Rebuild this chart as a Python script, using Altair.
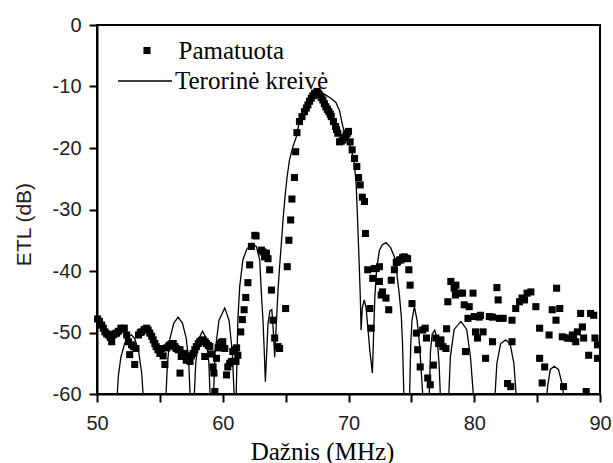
import altair as alt
import pandas as pd

# Measured data (Pamatuota)
freq_meas = [
    50.05, 50.2, 50.37, 50.5, 50.63, 50.77, 50.9, 51.05, 51.17, 51.3, 51.43, 51.56, 51.7, 51.9,
    52.05, 52.17, 52.36, 52.5, 52.6, 52.75, 52.9, 53.0, 53.1, 53.3, 53.45, 53.55, 53.75, 53.94,
    54.07, 54.2, 54.35, 54.47, 54.6, 54.7, 54.85, 55.0, 55.13, 55.26, 55.4, 55.55, 55.7, 55.8,
    55.95, 56.06, 56.2, 56.3, 56.45, 56.6, 56.6, 56.7, 56.85, 56.98, 57.1, 57.25, 57.4, 57.5,
    57.64, 57.78, 57.9, 58.05, 58.17, 58.3, 58.44, 58.57, 58.6, 58.7, 58.85, 58.97, 59.1, 59.23,
    59.3, 59.37, 59.5, 59.63, 59.76, 59.9, 60.0, 60.16, 60.3, 60.4, 60.55, 60.7, 60.8, 60.95,
    61.05, 61.1, 61.2, 61.43, 61.56, 61.7, 61.83, 62.0, 62.14, 62.28, 62.55, 62.65, 63.07, 63.2,
    63.33, 63.47, 63.6, 63.73, 63.87, 64.0, 64.13, 64.4, 64.52, 65.0, 65.13, 65.26, 65.4, 65.5,
    65.7, 65.8, 65.9, 66.1, 66.3, 66.5, 66.65, 66.77, 66.9, 67.04, 67.17, 67.3, 67.5, 67.6,
    67.7, 67.83, 67.96, 68.08, 68.2, 68.32, 68.44, 68.55, 68.63, 68.8, 68.97, 69.05, 69.15, 69.29,
    69.42, 69.55, 69.68, 69.8, 69.9, 70.0, 70.13, 70.29, 70.48, 70.66, 70.8, 70.93, 71.1, 71.27,
    71.35, 71.53, 71.7, 71.8, 71.93, 72.06, 72.2, 72.46, 72.46, 72.6, 72.7, 72.98, 73.2, 73.4,
    73.65, 73.8, 73.9, 74.05, 74.17, 74.3, 74.44, 74.57, 74.7, 74.8, 74.9, 75.05, 75.4, 75.5,
    75.7, 75.9, 76.1, 76.2, 76.3, 76.5, 76.75, 76.95, 77.17, 77.35, 77.5, 77.75, 77.8, 77.9,
    78.14, 78.4, 78.54, 78.5, 78.8, 79.07, 79.2, 79.3, 79.5, 79.6, 79.9, 80.0, 80.1, 80.26,
    80.4, 80.5, 80.7, 80.9, 81.2, 81.45, 81.45, 81.8, 81.9, 82.0, 82.3, 82.65, 82.9, 83.0,
    83.0, 83.3, 83.6, 83.8, 84.0, 84.2, 84.5, 84.9, 85.2, 85.2, 85.4, 85.6, 85.95, 86.2,
    86.5, 86.55, 86.8, 87.0, 87.1, 87.4, 87.54, 87.8, 87.9, 88.07, 88.2, 88.46, 88.6, 88.7,
    88.9, 89.1, 89.25, 89.5, 89.6, 89.8, 89.8,
]
etl_meas = [
    -47.8, -48.2, -48.8, -49.3, -49.9, -50.2, -50.4, -50.8, -51.5, -50.4, -50.2, -50.1, -49.8, -49.3,
    -49.5, -49.3, -50.4, -51.5, -53.6, -52.0, -52.3, -55.2, -52.6, -50.4, -50.0, -49.9, -49.5, -49.3,
    -49.6, -50.1, -50.6, -51.2, -51.8, -52.3, -52.8, -53.4, -52.6, -53.8, -55.2, -52.5, -52.2, -52.0,
    -51.8, -51.8, -52.3, -52.6, -52.8, -52.8, -56.6, -53.9, -53.5, -53.4, -54.5, -54.3, -54.7, -53.8,
    -53.4, -52.8, -52.3, -51.8, -51.5, -51.3, -51.2, -53.9, -51.5, -51.8, -52.1, -52.3, -53.5, -55.6,
    -56.6, -59.6, -54.2, -52.5, -51.8, -51.6, -51.5, -52.6, -56.9, -55.6, -55.0, -54.7, -53.1, -52.8,
    -54.7, -52.5, -53.7, -49.9, -47.9, -46.3, -44.3, -41.9, -39.0, -36.0, -34.2, -34.3, -36.6, -36.9,
    -37.7, -37.1, -38.0, -39.8, -43.1, -48.0, -50.9, -52.3, -52.6, -46.1, -39.3, -35.0, -31.7, -28.3,
    -24.8, -20.6, -17.5, -15.7, -14.9, -14.1, -13.5, -13.0, -12.4, -11.9, -11.5, -11.1, -10.8, -11.1,
    -11.4, -11.8, -12.2, -12.8, -13.3, -13.7, -14.1, -14.5, -14.9, -15.7, -16.5, -17.0, -17.6, -19.0,
    -18.9, -18.7, -18.3, -17.9, -17.6, -17.3, -19.0, -20.3, -21.7, -23.0, -24.8, -26.0, -28.0, -28.7,
    -33.9, -39.8, -46.1, -49.3, -41.2, -39.6, -39.6, -39.3, -41.7, -43.9, -43.4, -44.4, -46.3, -41.5,
    -39.8, -38.6, -38.5, -38.2, -38.2, -37.8, -37.7, -37.9, -38.0, -39.8, -42.3, -45.3, -50.1, -52.8,
    -55.6, -49.6, -49.3, -50.9, -57.4, -58.5, -55.3, -50.9, -51.8, -51.2, -52.3, -52.6, -49.4, -45.0,
    -41.7, -42.8, -42.3, -43.9, -43.6, -43.6, -45.5, -53.1, -47.7, -45.8, -43.6, -47.4, -49.9, -50.9,
    -47.5, -47.2, -49.9, -54.2, -47.4, -47.5, -51.5, -42.7, -44.7, -47.7, -47.7, -58.3, -58.8, -51.5,
    -48.0, -46.1, -45.0, -44.4, -44.7, -43.6, -43.4, -45.8, -49.3, -54.2, -58.2, -55.6, -50.4, -46.3,
    -48.0, -42.8, -46.1, -50.7, -58.8, -50.9, -50.9, -50.4, -51.0, -51.5, -49.9, -46.9, -49.1, -50.9,
    -59.6, -53.7, -46.9, -47.2, -50.9, -52.0, -54.2,
]

# Theoretical curve (Terorinė kreivė); values below -60 are clipped by the axis
freq_theory = [
    50.0, 51.5,
    51.56, 51.7, 51.9, 52.2, 52.5, 52.75, 53.0, 53.3, 53.55, 53.73, 53.8,
    55.4, 55.45, 55.6, 55.8, 56.1, 56.45, 56.8, 57.1, 57.3, 57.44, 57.5,
    57.65, 57.7, 57.85, 58.1, 58.39, 58.7, 58.9, 59.02, 59.1,
    59.2, 59.23, 59.4, 59.7, 60.16, 60.5, 60.75, 60.95, 61.0,
    61.05, 61.2, 61.35, 61.6, 61.9, 62.28, 62.67, 62.94, 63.07, 63.2, 63.3, 63.39,
    63.5, 63.6, 63.75, 63.9, 64.0, 64.13, 64.3, 64.4, 64.52, 64.66, 64.8, 64.95,
    65.1, 65.3, 65.55, 65.85, 66.1, 66.35, 66.6, 66.9, 67.17, 67.5, 67.8, 68.2,
    68.6, 69.0, 69.3, 69.45, 69.7, 70.0, 70.2, 70.45, 70.6, 70.7, 70.8, 70.87,
    70.95, 71.0, 71.1, 71.25, 71.4, 71.53, 71.7, 71.9, 72.0, 72.1, 72.25, 72.46,
    72.7, 73.0, 73.35, 73.65, 73.85, 74.05, 74.2, 74.3, 74.4, 74.45,
    74.8, 74.84, 74.95, 75.05, 75.24, 75.45, 75.65, 75.9, 75.95,
    76.35, 76.4, 76.52, 76.65, 76.85, 77.05, 77.2, 77.3, 77.35,
    77.9, 77.94, 78.1, 78.4, 78.94, 79.4, 79.7, 80.0, 80.05,
    81.55, 81.6, 81.8, 82.1, 82.5, 82.85, 83.15, 83.4, 83.45,
    85.6, 85.65, 85.85, 86.05, 86.35, 86.7, 87.0, 87.28, 87.35,
    90.0,
]
etl_theory = [
    -75, -75,
    -62, -57, -54, -51.8, -50.7, -50.4, -51, -53, -56.5, -62, -75,
    -75, -62, -55, -51, -48.5, -47.5, -48.5, -51, -55, -62, -75,
    -75, -62, -55, -51, -49.8, -51, -55, -62, -75,
    -75, -62, -53, -48, -46, -48, -53, -62, -75,
    -62, -48, -42.5, -38.2, -36.5, -35.5, -36, -38.2, -43.6, -48, -53, -58,
    -53, -48.5, -46.5, -46.3, -49, -54, -47, -43, -39.3, -35.5, -31.5, -28,
    -25, -22, -20, -18.2, -15.6, -14, -13, -12.2, -11.4, -10.8, -10.9, -11.4,
    -11.9, -12.6, -14, -15.6, -17.8, -19, -20, -22.3, -25.5, -30.5, -36, -40,
    -45, -49.6, -46, -44.7, -46, -49, -53, -56.6, -50, -44, -39.5, -36.6,
    -35.7, -35.4, -36.2, -37.7, -40.5, -44, -47.4, -52, -60, -75,
    -75, -62, -52, -48, -45.8, -48, -52, -60, -75,
    -75, -62, -53, -50.3, -49.6, -51, -55, -60, -75,
    -75, -62, -54, -49.5, -48.2, -49.5, -54, -62, -75,
    -75, -62, -55, -51.8, -51.2, -51.8, -55, -62, -75,
    -75, -63, -58.5, -56, -55.5, -56, -58.5, -63, -75,
    -75,
]

series_meas = ["Pamatuota"] * len(freq_meas)
series_theory = ["Terorinė kreivė"] * len(freq_theory)

meas = pd.DataFrame({"f": freq_meas, "etl": etl_meas, "series": series_meas})
theory = pd.DataFrame({"f": freq_theory, "etl": etl_theory, "series": series_theory,
                       "order": list(range(len(freq_theory)))})

x_scale = alt.Scale(domain=[50, 90], nice=False, zero=False)
y_scale = alt.Scale(domain=[-60, 0], nice=False, zero=False)

x_axis = alt.Axis(
    values=[50, 55, 60, 65, 70, 75, 80, 85, 90],
    labelExpr="datum.value % 10 == 0 ? toString(datum.value) : ''",
    title="Dažnis (MHz)",
    titleFont="Liberation Serif", titleFontSize=25, titleFontWeight="normal",
    titleColor="black", titlePadding=6, titleX=225,
    labelFont="Liberation Sans", labelFontSize=20, labelColor="#222222",
    labelPadding=11, tickSize=8, tickWidth=2, tickColor="black",
    domainColor="black", domainWidth=2, grid=False, labelFlush=False,
)
y_axis = alt.Axis(
    values=[-60, -55, -50, -45, -40, -35, -30, -25, -20, -15, -10, -5, 0],
    labelExpr="datum.value % 10 == 0 ? toString(datum.value) : ''",
    title="ETL (dB)",
    titleFont="Liberation Sans", titleFontSize=21, titleFontWeight="normal",
    titleColor="#2a1a10", titlePadding=18, titleY=199,
    labelFont="Liberation Sans", labelFontSize=20, labelColor="#222222",
    labelPadding=8, tickSize=8, tickWidth=2, tickColor="black",
    domainColor="black", domainWidth=2, grid=False, labelFlush=False,
)

line = alt.Chart(theory).mark_line(color="black", strokeWidth=1.3, clip=True).encode(
    x=alt.X("f:Q", scale=x_scale, axis=x_axis),
    y=alt.Y("etl:Q", scale=y_scale, axis=y_axis),
    order="order:Q",
    color=alt.Color("series:N", scale=alt.Scale(range=["black"]), title=None,
                    legend=alt.Legend(orient="none", legendX=20, legendY=28, padding=0,
                                      symbolType="stroke", symbolSize=2916,
                                      symbolStrokeWidth=1.3, symbolStrokeColor="black",
                                      labelFont="Liberation Serif", labelFontSize=25,
                                      labelColor="black", labelOffset=2, labelLimit=400)),
)

points = alt.Chart(meas).mark_point(filled=True, color="black", size=50, opacity=1,
                                    shape="square").encode(
    x=alt.X("f:Q", scale=x_scale),
    y=alt.Y("etl:Q", scale=y_scale),
    shape=alt.Shape("series:N", scale=alt.Scale(range=["square"]), title=None,
                    legend=alt.Legend(orient="none", legendX=37.5, legendY=13, padding=0,
                                      symbolSize=50, symbolFillColor="black",
                                      symbolStrokeColor="black", symbolStrokeWidth=0,
                                      labelFont="Liberation Serif", labelFontSize=25,
                                      labelColor="black", labelOffset=19, labelLimit=400)),
)

chart = alt.layer(line, points).properties(
    width=503, height=369,
    autosize=alt.AutoSizeParams(type="none"),
    padding={"left": 97, "top": 25, "right": 13, "bottom": 69},
    background="white",
).configure_view(stroke="black", strokeWidth=2)

chart.save("out.html", embed_options={"renderer": "svg", "actions": False})
